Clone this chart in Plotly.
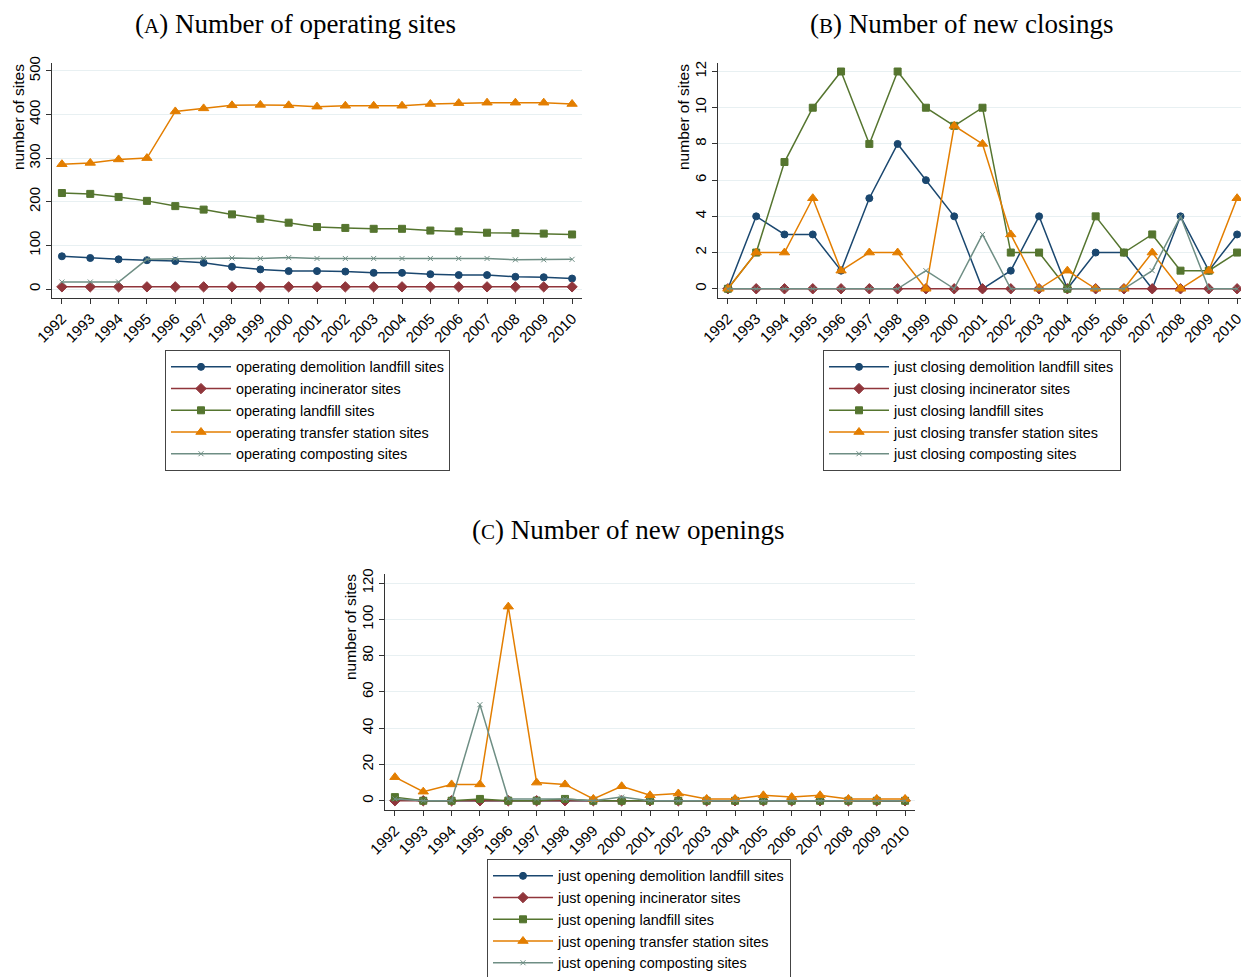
import plotly.graph_objects as go

# ---------------------------------------------------------------------------
#  Data
# ---------------------------------------------------------------------------

YEARS = list(range(1992, 2011))

# (A) operating sites
op_demolition = [75, 71, 68, 66, 64, 60, 51, 45, 41, 41, 40, 37, 37, 34, 32, 32, 28, 27, 24]
op_incinerator = [5] * 19
op_landfill = [220, 218, 211, 202, 190, 182, 171, 161, 152, 142, 140, 138, 138, 134, 132, 129, 128, 127, 125]
op_transfer = [286, 289, 297, 300, 407, 414, 421, 422, 421, 418, 420, 420, 420, 424, 426, 427, 427, 427, 424]
op_composting = [16, 16, 16, 68, 69, 70, 71, 70, 72, 70, 70, 70, 70, 70, 70, 70, 67, 67, 68]

# (B) new closings
cl_demolition = [0, 4, 3, 3, 1, 5, 8, 6, 4, 0, 1, 4, 0, 2, 2, 0, 4, 1, 3]
cl_incinerator = [0] * 19
cl_landfill = [0, 2, 7, 10, 12, 8, 12, 10, 9, 10, 2, 2, 0, 4, 2, 3, 1, 1, 2]
cl_transfer = [0, 2, 2, 5, 1, 2, 2, 0, 9, 8, 3, 0, 1, 0, 0, 2, 0, 1, 5]
cl_composting = [0, 0, 0, 0, 0, 0, 0, 1, 0, 3, 0, 0, 0, 0, 0, 1, 4, 0, 0]

# (C) new openings
on_demolition = [1, 0, 0, 0, 0, 0, 0, 0, 0, 0, 0, 0, 0, 0, 0, 0, 0, 0, 0]
on_incinerator = [0] * 19
on_landfill = [2, 0, 0, 1, 0, 0, 1, 0, 0, 0, 0, 0, 0, 0, 0, 0, 0, 0, 0]
on_transfer = [13, 5, 9, 9, 107, 10, 9, 1, 8, 3, 4, 1, 1, 3, 2, 3, 1, 1, 1]
on_composting = [1, 0, 0, 53, 1, 1, 1, 0, 2, 0, 0, 0, 0, 0, 0, 0, 0, 0, 0]

SITE_TYPES = ["demolition landfill", "incinerator", "landfill", "transfer station", "composting"]

# ---------------------------------------------------------------------------
#  Stata s2color look
# ---------------------------------------------------------------------------

COLORS = ["#1a476f", "#90353b", "#55752f", "#e37e00", "#6e8e84"]
SYMBOLS = ["circle", "diamond", "square", "triangle-up", "x-thin"]
SIZES = [7, 8, 7, 9, 5]

# the page body has an 8px margin, so the figure is drawn 8px in and 8px down
PAGE_W, PAGE_H, OFF = 1249, 977, 8
W, H = PAGE_W - OFF, PAGE_H - OFF
SANS = "Liberation Sans, Arial, sans-serif"
SERIF = "Liberation Serif, Times New Roman, serif"
GRID = "#e8f0f2"
AXIS = "#333333"


def px_x(p):
    return (p - OFF) / W


def px_y(p):
    return 1 - (p - OFF) / H


fig = go.Figure()

panels = [
    ("", "legend", "operating", [op_demolition, op_incinerator, op_landfill, op_transfer, op_composting]),
    ("2", "legend2", "just closing", [cl_demolition, cl_incinerator, cl_landfill, cl_transfer, cl_composting]),
    ("3", "legend3", "just opening", [on_demolition, on_incinerator, on_landfill, on_transfer, on_composting]),
]

for suffix, leg, prefix, series in panels:
    for i, vals in enumerate(series):
        fig.add_trace(go.Scatter(
            x=YEARS, y=vals, mode="lines+markers",
            name=f"{prefix} {SITE_TYPES[i]} sites",
            line=dict(color=COLORS[i], width=1.5),
            marker=dict(color=COLORS[i], symbol=SYMBOLS[i], size=SIZES[i],
                        line=dict(color=COLORS[i], width=1)),
            xaxis="x" + suffix, yaxis="y" + suffix, legend=leg,
        ))

# panel geometry in page pixels: (left, right, top, bottom), y range, dtick
geom = {
    "": ((52, 582, 63, 298), [-20.6, 518], 100),
    "2": ((718, 1247, 63, 298), [-0.51, 12.47], 2),
    "3": ((385, 915, 574, 810), [-5.1, 125], 20),
}

axes = {}
for suffix, ((l, r, t, b), yr, dt) in geom.items():
    axes["xaxis" + suffix] = dict(
        domain=[px_x(l), min(px_x(r), 1)], anchor="y" + suffix, automargin=False,
        range=[1991.65, 2010.35], tickmode="array", tickvals=YEARS,
        ticktext=[str(y) for y in YEARS], tickangle=-45,
        ticks="outside", ticklen=5, tickcolor=AXIS,
        showline=True, linecolor=AXIS, linewidth=1.2,
        showgrid=False, zeroline=False,
        tickfont=dict(family=SANS, size=15, color="#000000"),
    )
    axes["yaxis" + suffix] = dict(
        domain=[px_y(b), px_y(t)], anchor="x" + suffix, automargin=False,
        range=yr, dtick=dt, tick0=0, tickangle=-90,
        ticks="outside", ticklen=5, tickcolor=AXIS,
        showline=True, linecolor=AXIS, linewidth=1.2,
        showgrid=True, gridcolor=GRID, gridwidth=1,
        zeroline=True, zerolinecolor=GRID, zerolinewidth=1,
        tickfont=dict(family=SANS, size=15, color="#000000"),
    )

legend_style = dict(
    bgcolor="white", bordercolor="#444444", borderwidth=1,
    font=dict(family=SANS, size=14.4, color="#000000"),
    xanchor="left", yanchor="top", tracegroupgap=0, itemwidth=60,
)

fig.update_layout(
    width=W, height=H,
    margin=dict(l=0, r=0, t=0, b=0, autoexpand=False),
    paper_bgcolor="white", plot_bgcolor="white",
    showlegend=True,
    legend=dict(**legend_style, x=px_x(165), y=px_y(350)),
    legend2=dict(**legend_style, x=px_x(823), y=px_y(350)),
    legend3=dict(**legend_style, x=px_x(487), y=px_y(859)),
    **axes,
)

# panel titles with small-caps letters
titles = [
    ("A", "Number of operating sites", 295, 24),
    ("B", "Number of new closings", 961, 24),
    ("C", "Number of new openings", 628, 530),
]
for letter, text, cx, cy in titles:
    fig.add_annotation(
        text=f"(<span style='font-size:21px'>{letter}</span>) {text}",
        xref="paper", yref="paper", x=px_x(cx), y=px_y(cy),
        xanchor="center", yanchor="middle", showarrow=False,
        font=dict(family=SERIF, size=27, color="#000000"),
    )

# y-axis titles
for cx, cy in [(18, 117), (683, 117), (350, 627)]:
    fig.add_annotation(
        text="number of sites", textangle=-90,
        xref="paper", yref="paper", x=px_x(cx), y=px_y(cy),
        xanchor="center", yanchor="middle", showarrow=False,
        font=dict(family=SANS, size=15.5, color="#000000"),
    )

fig.write_html("out.html")
